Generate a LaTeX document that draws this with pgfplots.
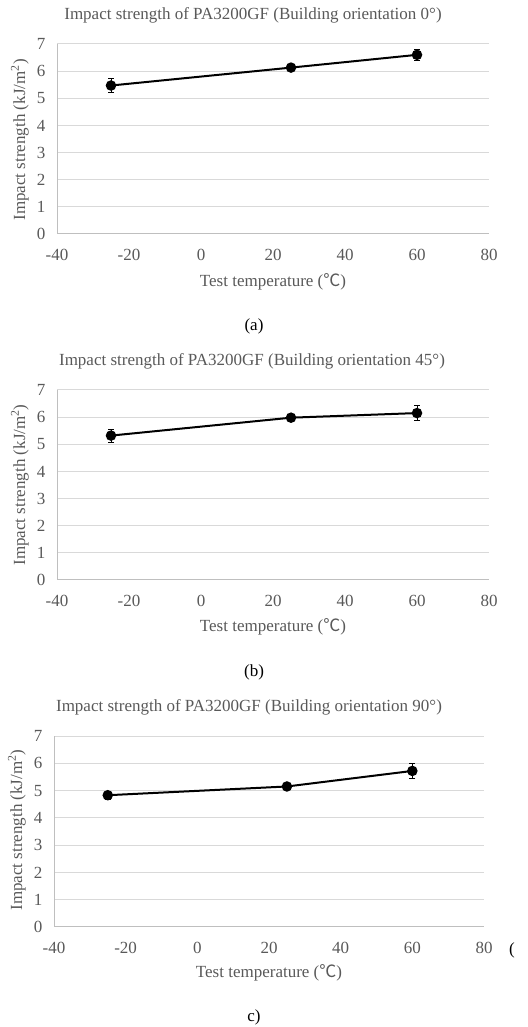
\documentclass[border=0pt]{standalone}
\usepackage{fontspec}
\setmainfont{Liberation Serif}
\newfontfamily\cjk{Noto Sans CJK SC}
\usepackage{pgfplots}
\pgfplotsset{compat=1.18}
\usepackage{pgfplotstable}

\definecolor{txt}{HTML}{595959}
\definecolor{gridc}{HTML}{D9D9D9}
\definecolor{axc}{HTML}{BFBFBF}

% temperature, impact strength, error
\pgfplotstableread{
t  s     e
-25 5.47 0.27
25  6.13 0.09
60  6.60 0.21
}\deg
\pgfplotstableread{
t  s     e
-25 5.32 0.24
25  5.98 0.06
60  6.15 0.27
}\degb
\pgfplotstableread{
t  s     e
-25 4.83 0.15
25  5.15 0.05
60  5.72 0.28
}\degc

\newcommand{\fs}{\fontsize{17}{20}\selectfont}

\pgfplotsset{
  panel/.style={
    scale only axis, width=432pt, height=190pt, anchor=south west,
    xmin=-40, xmax=80, ymin=0, ymax=7,
    xtick={-40,-20,0,20,40,60,80},
    xticklabels={-40,-20,0,20,40,60,80},
    ytick={0,1,2,3,4,5,6,7},
    yticklabels={0,1,2,3,4,5,6,7},
    axis x line=bottom, axis y line=left,
    axis line style={-, axc, line width=1pt},
    every outer x axis line/.append style={-},
    every outer y axis line/.append style={-},
    ymajorgrids, grid style={gridc, line width=1pt},
    major tick length=0pt,
    tick label style={txt, font=\fs},
    xticklabel style={yshift=-12pt},
    yticklabel style={xshift=-8pt},
    clip=false,
  },
  series/.style={
    black, line width=2pt, mark=*, mark size=4.2pt,
    error bars/.cd, y dir=both, y explicit,
    error bar style={line width=1pt, black},
    error mark options={rotate=90, mark size=3pt, line width=1pt, black},
  },
}

\begin{document}
\begin{tikzpicture}
\path[use as bounding box] (0,0) rectangle (527pt,1027pt);

\begin{axis}[panel, at={(57pt,793pt)}]
  \addplot[series] table[x=t, y=s, y error=e] {\deg};
\end{axis}
\begin{axis}[panel, at={(57pt,447pt)}]
  \addplot[series] table[x=t, y=s, y error=e] {\degb};
\end{axis}
\begin{axis}[panel, at={(54pt,100pt)}, width=430pt, height=191pt]
  \addplot[series] table[x=t, y=s, y error=e] {\degc};
\end{axis}

\begin{scope}[every node/.style={txt, font=\fs, inner sep=0pt}]
  \node at (253pt,1012pt) {Impact strength of PA3200GF (Building orientation 0°)};
  \node at (252pt,666pt) {Impact strength of PA3200GF (Building orientation 45°)};
  \node at (249pt,320pt) {Impact strength of PA3200GF (Building orientation 90°)};
  \node at (273pt,745pt) {Test temperature ({\cjk ℃})};
  \node at (273pt,400pt) {Test temperature ({\cjk ℃})};
  \node at (269pt,54pt) {Test temperature ({\cjk ℃})};
  \node[rotate=90] at (20pt,887pt) {Impact strength (kJ/m\textsuperscript{2})};
  \node[rotate=90] at (20pt,542pt) {Impact strength (kJ/m\textsuperscript{2})};
  \node[rotate=90] at (17pt,197pt) {Impact strength (kJ/m\textsuperscript{2})};
\end{scope}
\begin{scope}[every node/.style={black, font=\fs, inner sep=0pt}]
  \node at (254pt,701pt) {(a)};
  \node at (254pt,355pt) {(b)};
  \node at (254pt,10pt) {c)};
  \node at (512pt,77pt) {(};
\end{scope}
\end{tikzpicture}
\end{document}
